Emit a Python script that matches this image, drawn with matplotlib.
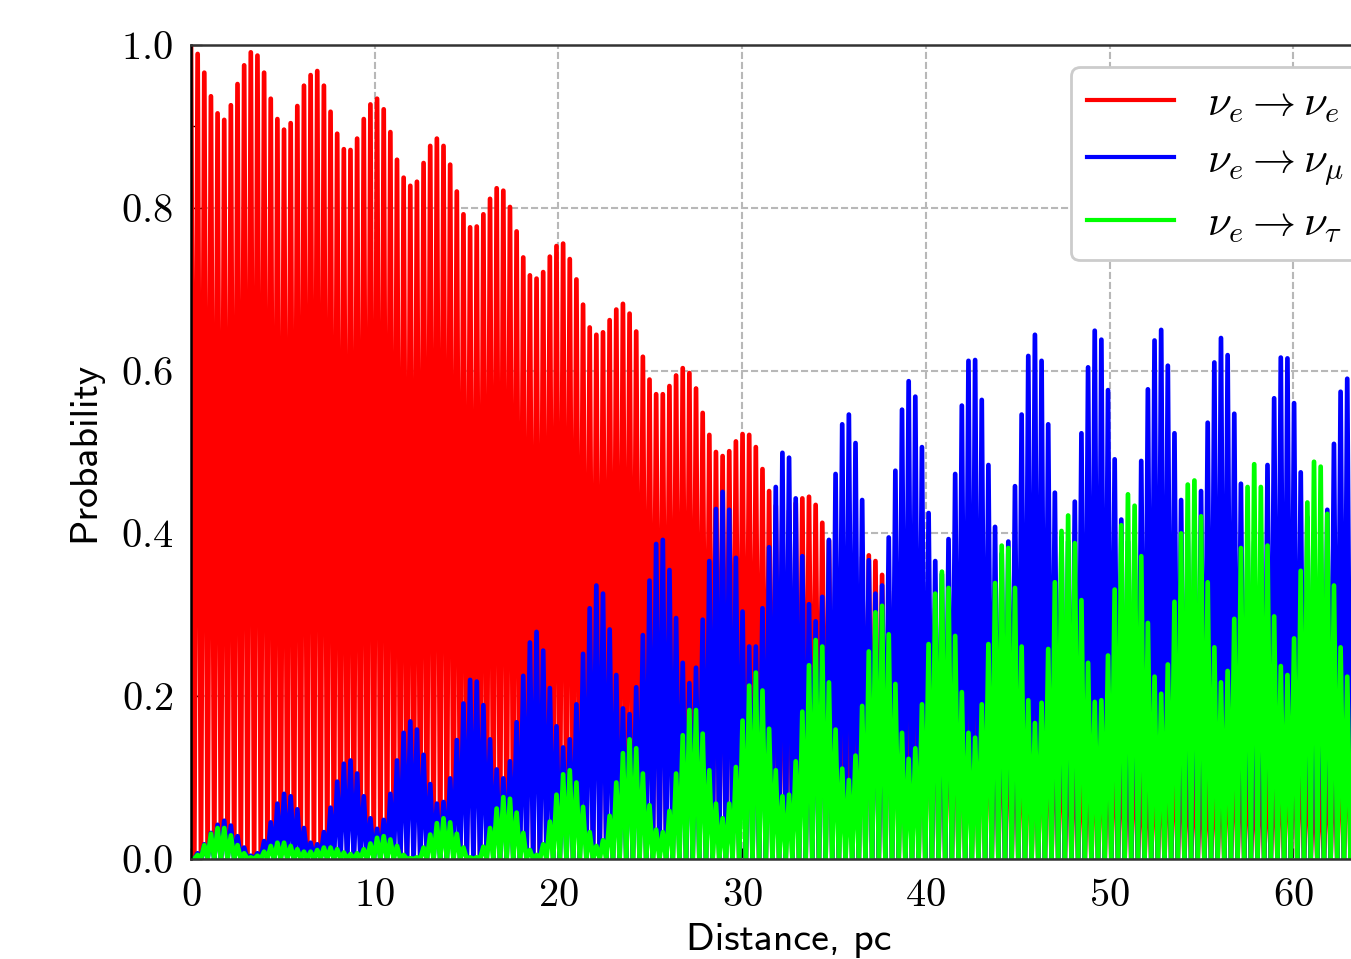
import numpy as np
import matplotlib
matplotlib.use('Agg')
import matplotlib.pyplot as plt

# heights of the fast oscillation maxima
p_ee = [1.0, .989, .966, .937, .916, .908, .926, .952, .975, .991,
        .987, .966, .934, .909, .896, .904, .925, .950, .963, .968,
        .950, .918, .891, .872, .871, .885, .909, .927, .934, .921,
        .893, .859, .837, .827, .832, .855, .876, .885, .876, .853,
        .820, .792, .776, .777, .792, .811, .824, .821, .801, .771,
        .739, .717, .713, .721, .740, .753, .756, .737, .712, .681,
        .653, .644, .647, .662, .675, .682, .670, .648, .617, .589,
        .571, .571, .581, .594, .603, .597, .578, .548, .521, .500,
        .495, .501, .513, .522, .521, .506, .479, .452, .434, .424,
        .428, .437, .443, .445, .435, .413, .391, .368, .355, .357,
        .362, .371, .373, .366, .349, .329, .308, .293, .290, .296,
        .304, .311, .308, .297, .274, .253, .238, .233, .238, .246,
        .252, .253, .240, .228, .209, .193, .188, .189, .196, .208,
        .210, .202, .188, .173, .159, .155, .158, .167, .174, .178,
        .173, .162, .171, .139, .133, .139, .147, .155, .161, .159,
        .140, .135, .127, .124, .130, .143, .150, .158, .157, .143,
        .125, .143, .131, .136, .147, .159, .169, .171, .142, .112,
        .118, .147, .154, .166, .186, .190]

p_emu = [0, .007, .018, .032, .042, .047, .041, .028, .014, .004,
         .007, .022, .045, .068, .080, .077, .061, .038, .020, .018,
         .033, .063, .095, .117, .121, .105, .077, .050, .037, .048,
         .080, .121, .155, .169, .159, .128, .092, .068, .070, .099,
         .146, .191, .220, .218, .189, .147, .110, .099, .120, .168,
         .225, .266, .279, .256, .210, .163, .137, .147, .190, .252,
         .308, .336, .326, .282, .226, .185, .178, .211, .275, .342,
         .387, .392, .355, .296, .241, .216, .235, .294, .366, .430,
         .451, .429, .370, .304, .261, .261, .308, .383, .457, .499,
         .493, .443, .372, .313, .292, .322, .392, .473, .534, .546,
         .511, .441, .367, .326, .336, .395, .477, .552, .587, .568,
         .506, .425, .366, .350, .393, .473, .557, .612, .613, .564,
         .484, .408, .375, .390, .458, .546, .618, .644, .612, .534,
         .450, .395, .390, .439, .523, .604, .649, .638, .576, .491,
         .417, .390, .395, .489, .577, .637, .650, .606, .523, .441,
         .400, .400, .452, .536, .610, .640, .619, .547, .461, .400,
         .390, .400, .484, .566, .616, .615, .560, .475, .420, .400,
         .400, .429, .510, .574, .590, .570]

p_etau = [0, .005, .017, .031, .038, .038, .029, .017, .007, .002,
          .004, .009, .016, .020, .020, .016, .012, .009, .009, .011,
          .014, .014, .012, .008, .006, .007, .012, .019, .026, .028,
          .024, .016, .005, .001, .002, .014, .030, .044, .050, .045,
          .031, .014, .002, .002, .015, .038, .062, .076, .074, .057,
          .032, .011, .005, .018, .046, .079, .104, .109, .094, .064,
          .033, .016, .023, .053, .094, .130, .147, .136, .105, .066,
          .036, .033, .059, .105, .152, .183, .183, .154, .109, .068,
          .050, .068, .113, .170, .213, .229, .207, .160, .109, .077,
          .079, .120, .181, .238, .269, .261, .217, .159, .111, .097,
          .127, .188, .255, .303, .311, .276, .215, .155, .123, .136,
          .190, .264, .326, .353, .333, .274, .205, .155, .149, .190,
          .264, .339, .385, .382, .333, .261, .195, .167, .192, .258,
          .340, .403, .422, .388, .318, .241, .193, .195, .250, .331,
          .410, .448, .434, .372, .290, .224, .203, .239, .316, .400,
          .460, .465, .421, .340, .260, .217, .231, .295, .382, .457,
          .485, .457, .385, .298, .237, .226, .271, .354, .438, .488,
          .482, .424, .336, .260, .224, .240]

peak_spacing = 0.3617  # pc between maxima
trough = 0.0           # all three curves come back to about zero

labels = [r'$\nu_e \rightarrow \nu_e$', r'$\nu_e \rightarrow \nu_\mu$', r'$\nu_e \rightarrow \nu_\tau$']
colors = ['#ff0000', '#0000ff', '#00ff00']


def zigzag(peaks):
    # maximum, minimum, maximum, ... half a spacing apart
    y = np.full(2 * len(peaks) - 1, trough)
    y[::2] = peaks
    x = np.arange(len(y)) * peak_spacing / 2
    return x, y


W, H = 1351, 959
plt.rcParams['mathtext.fontset'] = 'cm'
plt.rcParams['axes.formatter.use_mathtext'] = True

fig = plt.figure(figsize=(W / 100, H / 100), dpi=100)
# the axes run past the right edge of the picture, as in the original crop
ax = fig.add_axes([191 / W, 1 - 859 / H, (1387 - 191) / W, (859 - 45) / H])
ax.set_axisbelow(True)

for peaks, c, lab in zip([p_ee, p_emu, p_etau], colors, labels):
    x, y = zigzag(peaks)
    ax.plot(x, y, color=c, lw=3.4, label=lab, solid_joinstyle='round')

ax.set_xlim(0, 65.1)
ax.set_ylim(0, 1)
ax.set_xticks(np.arange(0, 61, 10))
ax.set_yticks(np.arange(0, 1.01, 0.2))
ax.set_yticks(np.arange(0.1, 1, 0.2), minor=True)
ax.grid(True, which='major', color='#b8b8b8', ls='--', lw=1.5, dashes=(3.4, 1.4))

ax.tick_params(which='major', direction='in', length=8, width=1, labelsize=29)
ax.tick_params(axis='x', which='major', pad=14)
ax.tick_params(axis='y', which='major', pad=13)
ax.tick_params(which='minor', direction='in', length=3, width=1)
for lab in ax.get_xticklabels() + ax.get_yticklabels():
    lab.set_fontfamily('cmr10')

for s in ax.spines.values():
    s.set_linewidth(1.8)
    s.set_color('#333333')
ax.spines['left'].set_color('black')

ax.set_xlabel('Distance, pc', fontfamily='cmss10', fontsize=28.7, labelpad=6)
ax.set_ylabel('Probability', fontfamily='cmss10', fontsize=28.7, labelpad=13)

leg = ax.legend(loc='upper left', bbox_to_anchor=(1071 / W, 1 - 67 / H), bbox_transform=fig.transFigure,
                fontsize=31, borderaxespad=0, framealpha=1, fancybox=True, labelspacing=0.34,
                borderpad=0.36, handlelength=2.03, handletextpad=0.77)
leg.get_frame().set_linewidth(2)
for line in leg.get_lines():
    line.set_linewidth(3)

fig.savefig('out.png', dpi=100)
